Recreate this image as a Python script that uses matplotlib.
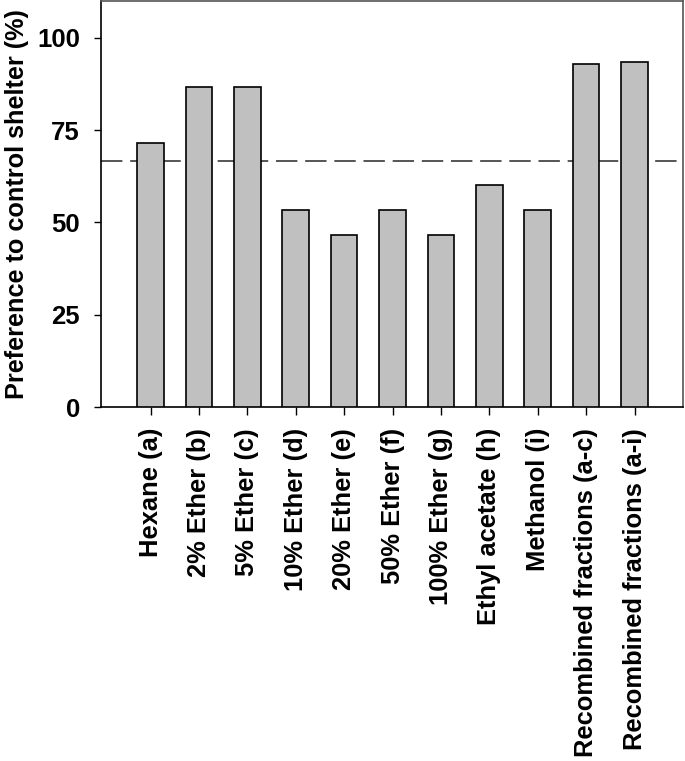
import matplotlib
matplotlib.use("Agg")
import matplotlib.pyplot as plt

categories = ["Hexane (a)", "2% Ether (b)", "5% Ether (c)", "10% Ether (d)",
              "20% Ether (e)", "50% Ether (f)", "100% Ether (g)", "Ethyl acetate (h)",
              "Methanol (i)", "Recombined fractions (a-c)", "Recombined fractions (a-i)"]
values = [71.4, 86.7, 86.7, 53.3, 46.7, 53.3, 46.7, 60.0, 53.3, 92.9, 93.3]
reference_line = 66.7
yticks = [0, 25, 50, 75, 100]

plt.rcParams['font.family'] = ['Liberation Sans', 'DejaVu Sans']
plt.rcParams['font.weight'] = 'bold'

fig = plt.figure(figsize=(6.85, 7.61), dpi=100)
ax = fig.add_axes([0.147, 0.465, 0.850, 0.534])

x = list(range(len(categories)))
ax.bar(x, values, width=0.55, color='#c0c0c0', edgecolor='black', linewidth=1.2, zorder=3)
ax.axhline(reference_line, color='#555555', linewidth=1.4, linestyle=(0, (11, 4)), zorder=2)

ax.set_xlim(-1.03, 11.0)
ax.set_ylim(0, 110)
ax.set_yticks(yticks)
ax.set_yticklabels([str(t) for t in yticks], fontsize=18.5, fontweight='bold')
ax.set_xticks(x)
ax.set_xticklabels(categories, rotation=90, fontsize=18.4, fontweight='bold')
ax.tick_params(axis='both', direction='out', width=1, color='black')
ax.tick_params(axis='x', length=6, pad=9)
ax.tick_params(axis='y', length=5, pad=10)
ax.set_ylabel("Preference to control shelter (%)", fontsize=18.2, fontweight='bold', labelpad=6)

for s in ['left', 'bottom']:
    ax.spines[s].set_color('black')
    ax.spines[s].set_linewidth(1.2)
for s in ['top', 'right']:
    ax.spines[s].set_color('#555555')
    ax.spines[s].set_linewidth(1.2)

fig.savefig("out.png", dpi=100)
